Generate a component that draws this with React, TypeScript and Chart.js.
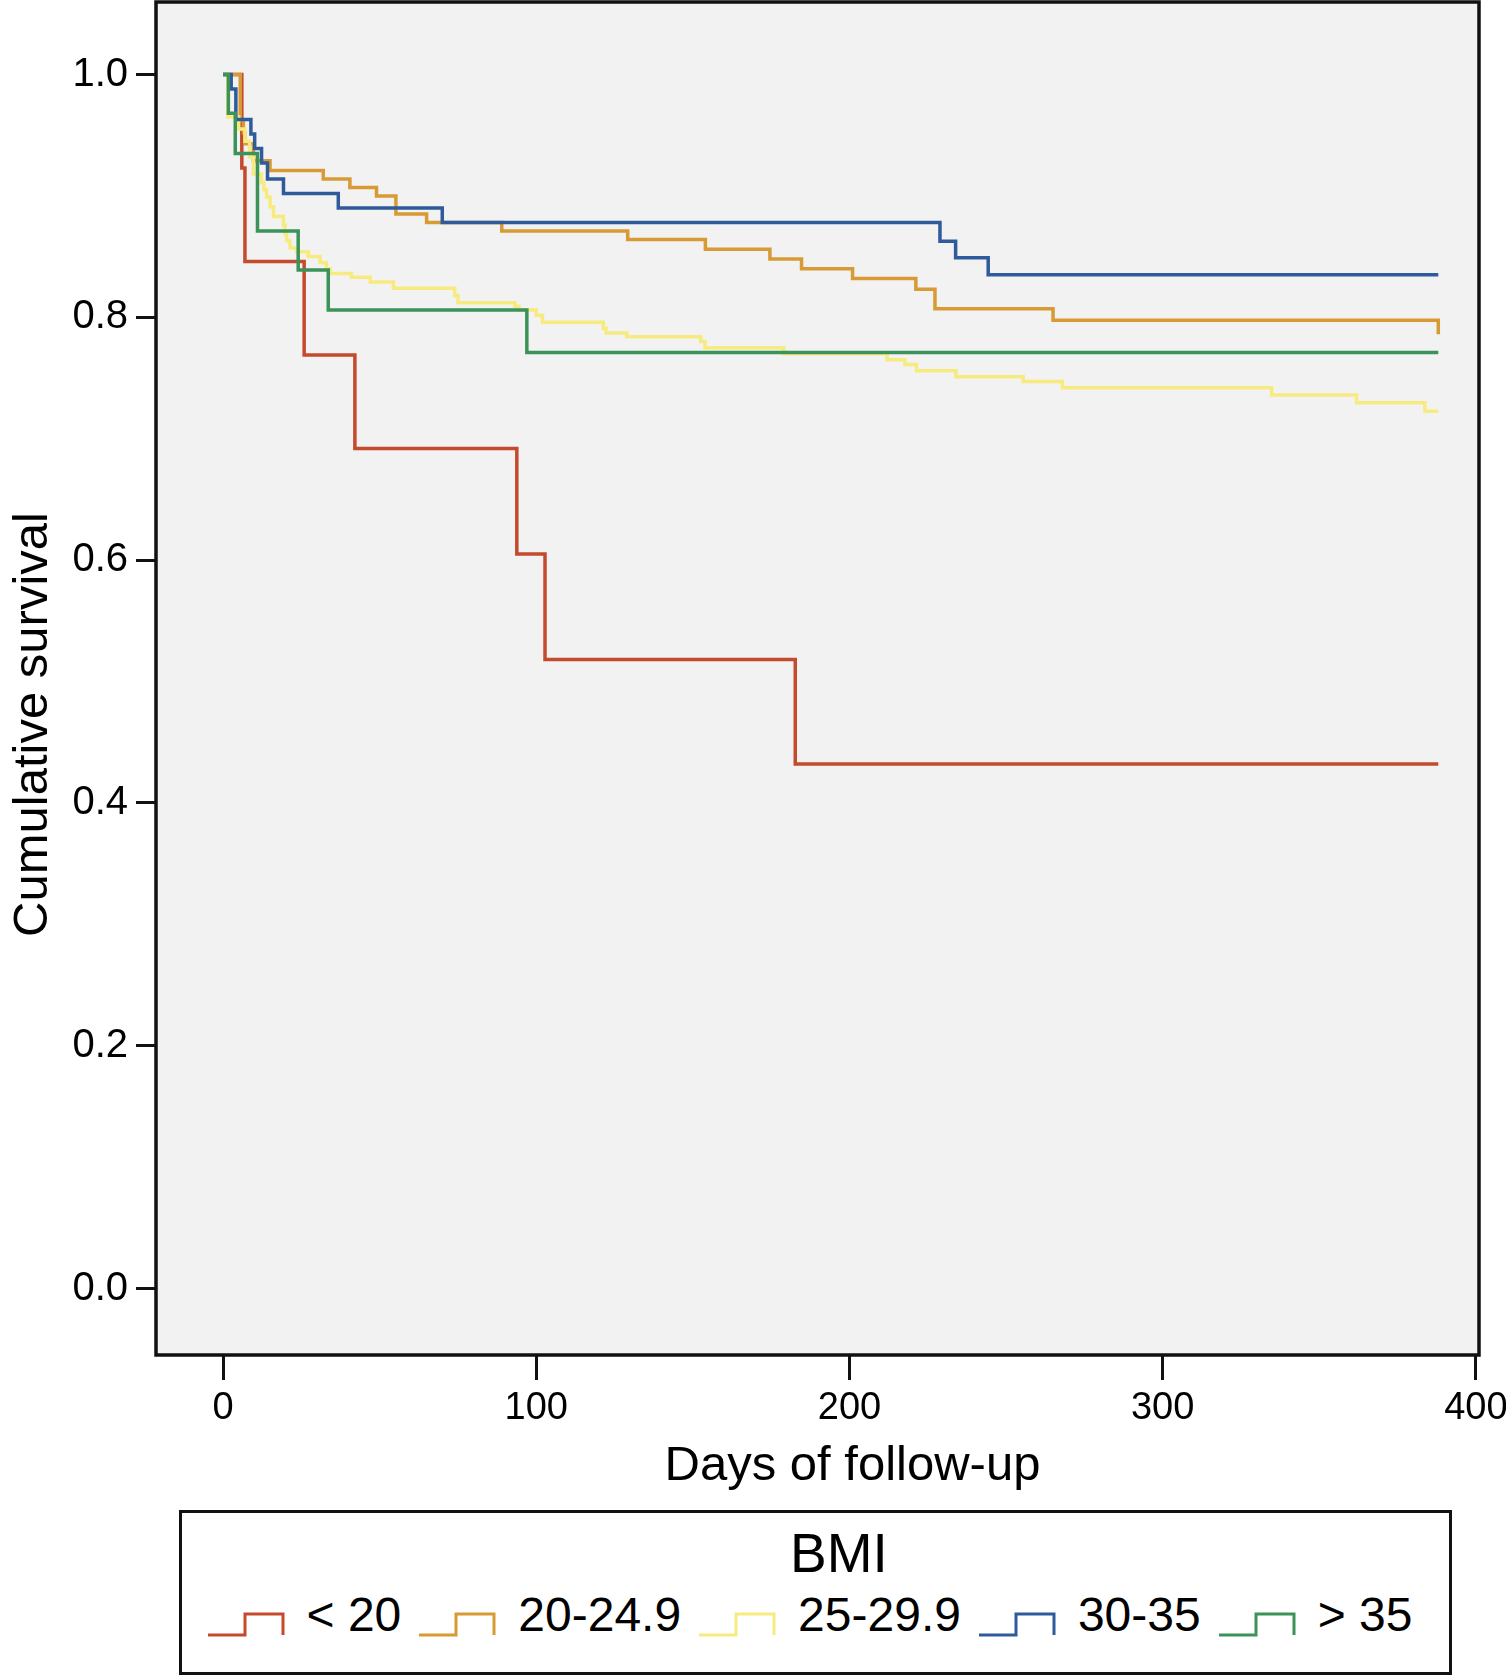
import { useEffect, useRef } from 'react'
import { Chart, LineController, LineElement, PointElement, LinearScale } from 'chart.js'
import type { Plugin } from 'chart.js'

Chart.register(LineController, LineElement, PointElement, LinearScale)

const FONT = '"Liberation Sans", Arial, Helvetica, sans-serif'

const X_TICKS = [0, 100, 200, 300, 400]
const Y_TICKS = [0, 0.2, 0.4, 0.6, 0.8, 1.0]
const X_TITLE = 'Days of follow-up'
const Y_TITLE = 'Cumulative survival'
const LEGEND_TITLE = 'BMI'

const GROUPS = ['< 20', '20-24.9', '25-29.9', '30-35', '> 35']
const COLORS = ['#C34A2C', '#D79A35', '#F7EB80', '#2F5A9B', '#3B935A']

// Kaplan-Meier steps: day of each drop, survival after it
const DAYS_LT20 = [0, 6, 7, 25.9, 42.1, 93.8, 102.8, 182.7, 388]
const SURV_LT20 = [1, 0.923, 0.846, 0.769, 0.692, 0.605, 0.518, 0.432, 0.432]

const DAYS_20_25 = [0, 5.5, 6.5, 7, 9.7, 15, 32, 40.5, 49, 55.2, 65, 89, 129.2, 154, 174.6, 184.7, 201, 221.2, 227.3, 265, 388]
const SURV_20_25 = [1, 0.962, 0.952, 0.943, 0.929, 0.921, 0.914, 0.907, 0.9, 0.885, 0.878, 0.871, 0.864, 0.856, 0.848, 0.84, 0.832, 0.823, 0.807, 0.7975, 0.786]

const DAYS_25_30 = [0, 1.5, 5, 7, 8.5, 9.7, 12.3, 13, 13.9, 15, 16.1, 19.3, 19.8, 20.3, 21.4, 23.5, 27.2, 31, 33, 34.2, 41, 47, 54.4, 74, 75, 93.2, 94.5, 100, 102, 121.4, 122.3, 128.9, 152.5, 153.9, 179, 212, 217.7, 221.4, 234, 255.5, 268, 334.8, 361.9, 383.7, 388]
const SURV_25_30 = [1, 0.965, 0.955, 0.945, 0.932, 0.918, 0.911, 0.905, 0.899, 0.891, 0.883, 0.876, 0.869, 0.863, 0.857, 0.854, 0.85, 0.845, 0.84, 0.836, 0.833, 0.829, 0.824, 0.818, 0.812, 0.809, 0.806, 0.8016, 0.796, 0.791, 0.787, 0.784, 0.78, 0.775, 0.77, 0.765, 0.761, 0.756, 0.751, 0.747, 0.742, 0.736, 0.7295, 0.7226, 0.7226]

const DAYS_30_35 = [0, 2.6, 4.1, 8.9, 10.1, 12.3, 14.2, 19.3, 36.8, 70, 228.9, 233.9, 244.3, 388]
const SURV_30_35 = [1, 0.988, 0.963, 0.951, 0.939, 0.927, 0.914, 0.902, 0.89, 0.878, 0.8626, 0.849, 0.835, 0.835]

const DAYS_GT35 = [0, 1.7, 3.9, 11, 24, 33.6, 97, 388]
const SURV_GT35 = [1, 0.968, 0.935, 0.871, 0.839, 0.806, 0.771, 0.771]

const SERIES = [
  [DAYS_LT20, SURV_LT20],
  [DAYS_20_25, SURV_20_25],
  [DAYS_25_30, SURV_25_30],
  [DAYS_30_35, SURV_30_35],
  [DAYS_GT35, SURV_GT35],
]

// grey plot panel, black frame and the two axis titles
const framePlugin: Plugin<'line'> = {
  id: 'frame',
  beforeDraw(chart) {
    const { ctx, chartArea: a } = chart
    ctx.save()
    ctx.fillStyle = '#F2F2F2'
    ctx.fillRect(a.left, a.top, a.right - a.left, a.bottom - a.top)
    ctx.restore()
  },
  afterDraw(chart) {
    const { ctx, chartArea: a } = chart
    ctx.save()
    ctx.strokeStyle = '#111'
    ctx.lineWidth = 3.5
    ctx.strokeRect(a.left, a.top, a.right - a.left, a.bottom - a.top)

    ctx.fillStyle = '#000'
    ctx.font = `49px ${FONT}`
    ctx.textAlign = 'center'
    ctx.textBaseline = 'alphabetic'
    ctx.fillText(X_TITLE, (a.left + a.right) / 2 + 35, a.bottom + 125)

    ctx.translate(47, (a.top + a.bottom) / 2 + 46)
    ctx.rotate(-Math.PI / 2)
    ctx.fillText(Y_TITLE, 0, 0)
    ctx.restore()
  },
}

function StepIcon({ color }: { color: string }) {
  return (
    <svg width={78} height={48} style={{ display: 'block', flex: 'none' }}>
      <path d="M1 44 H38 V23 H76 V44" fill="none" stroke={color} strokeWidth={3} />
    </svg>
  )
}

export default function App() {
  const canvasRef = useRef<HTMLCanvasElement>(null)
  const chartRef = useRef<Chart<'line'> | null>(null)

  useEffect(() => {
    if (!canvasRef.current) return
    if (chartRef.current) chartRef.current.destroy()

    chartRef.current = new Chart(canvasRef.current, {
      type: 'line',
      data: {
        datasets: SERIES.map(([days, surv], i) => ({
          label: GROUPS[i],
          data: days.map((d, j) => ({ x: d, y: surv[j] })),
          borderColor: COLORS[i],
          borderWidth: 3.5,
          stepped: 'before' as const,
          pointRadius: 0,
          fill: false,
          order: SERIES.length - i,
        })),
      },
      options: {
        responsive: true,
        maintainAspectRatio: false,
        animation: false,
        events: [],
        layout: { padding: { left: 0, top: 2, right: 27, bottom: 0 } },
        plugins: {
          legend: { display: false },
          tooltip: { enabled: false },
        },
        scales: {
          x: {
            type: 'linear',
            min: -21.4,
            max: 401,
            afterBuildTicks: (s) => { s.ticks = X_TICKS.map(v => ({ value: v })) },
            afterFit: (s) => { s.height = 145; s.paddingLeft = 0; s.paddingRight = 0 },
            border: { display: false },
            grid: { drawOnChartArea: false, drawTicks: true, tickLength: 25, lineWidth: 3, color: '#111' },
            ticks: {
              color: '#000',
              font: { family: FONT, size: 38 },
              padding: 6,
              maxRotation: 0,
              callback: (v) => String(v),
            },
          },
          y: {
            type: 'linear',
            min: -0.0548,
            max: 1.0597,
            afterBuildTicks: (s) => { s.ticks = Y_TICKS.map(v => ({ value: v })) },
            afterFit: (s) => { s.width = 156; s.paddingTop = 0; s.paddingBottom = 0 },
            border: { display: false },
            grid: { drawOnChartArea: false, drawTicks: true, tickLength: 20, lineWidth: 3, color: '#111' },
            ticks: {
              color: '#000',
              font: { family: FONT, size: 40 },
              padding: 8,
              callback: (v) => Number(v).toFixed(1),
            },
          },
        },
      },
      plugins: [framePlugin],
    })

    return () => { chartRef.current?.destroy(); chartRef.current = null }
  }, [])

  return (
    <div style={{ position: 'absolute', left: 0, top: 0, width: 1506, height: 1676, background: '#fff', fontFamily: FONT, color: '#000' }}>
      <div style={{ position: 'absolute', left: 0, top: 0, width: 1506, height: 1500 }}>
        <canvas ref={canvasRef} />
      </div>
      <div style={{ position: 'absolute', left: 179, top: 1510, width: 1273, height: 165, border: '3px solid #111', boxSizing: 'border-box' }} />
      <div style={{ position: 'absolute', left: 0, width: 1506, top: 1526, textAlign: 'center', paddingLeft: 172, boxSizing: 'border-box', fontSize: 55, lineHeight: 1 }}>
        {LEGEND_TITLE}
      </div>
      <div style={{ position: 'absolute', left: 179, width: 1273, top: 1591, paddingRight: 12, boxSizing: 'border-box', display: 'flex', justifyContent: 'center', alignItems: 'center', gap: 17, height: 48 }}>
        {GROUPS.map((g, i) => (
          <div key={g} style={{ display: 'flex', alignItems: 'center', gap: 22 }}>
            <StepIcon color={COLORS[i]} />
            <span style={{ fontSize: 48, lineHeight: 1, whiteSpace: 'pre' }}>{g}</span>
          </div>
        ))}
      </div>
    </div>
  )
}
